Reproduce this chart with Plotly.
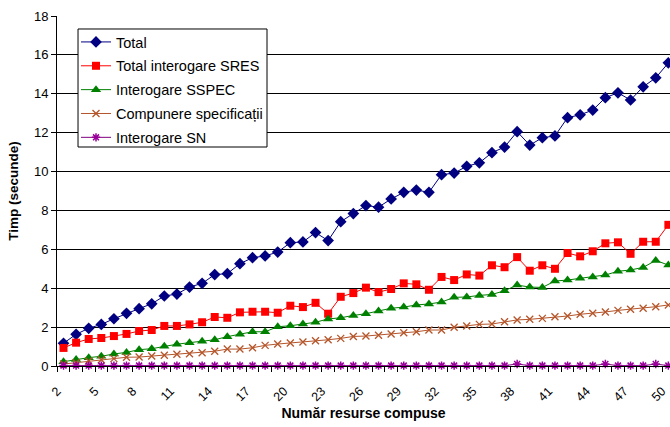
import plotly.graph_objects as go

x_vals = list(range(2, 51))
tick_values = list(range(2, 51, 3))
tick_labels = [str(v) for v in tick_values]

total = [1.17, 1.63, 1.94, 2.14, 2.43, 2.71, 2.95, 3.20, 3.60, 3.70, 4.06, 4.25, 4.70,
         4.75, 5.26, 5.57, 5.66, 5.86, 6.34, 6.38, 6.86, 6.45, 7.42, 7.84, 8.25, 8.17,
         8.59, 8.93, 9.05, 8.93, 9.84, 9.92, 10.27, 10.45, 10.97, 11.26, 12.05, 11.36,
         11.74, 11.83, 12.77, 12.92, 13.16, 13.80, 14.05, 13.68, 14.36, 14.82, 15.59]

total_sres = [0.93, 1.20, 1.39, 1.44, 1.54, 1.65, 1.80, 1.85, 2.06, 2.06, 2.14, 2.25, 2.52,
              2.48, 2.76, 2.79, 2.79, 2.74, 3.10, 3.03, 3.25, 2.69, 3.56, 3.75, 4.03, 3.80,
              3.96, 4.25, 4.20, 3.92, 4.58, 4.42, 4.71, 4.65, 5.18, 5.08, 5.60, 4.90,
              5.18, 5.00, 5.81, 5.64, 5.90, 6.31, 6.36, 5.77, 6.39, 6.39, 7.26]

sspec = [0.22, 0.34, 0.43, 0.50, 0.62, 0.70, 0.84, 0.89, 1.01, 1.12, 1.20, 1.27, 1.35,
         1.51, 1.63, 1.76, 1.76, 2.02, 2.07, 2.16, 2.25, 2.42, 2.48, 2.60, 2.69, 2.83,
         2.97, 3.03, 3.14, 3.19, 3.29, 3.53, 3.55, 3.63, 3.68, 3.87, 4.16, 4.06,
         4.04, 4.37, 4.42, 4.51, 4.58, 4.68, 4.87, 4.94, 5.07, 5.43, 5.19]

compunere = [0.10, 0.17, 0.26, 0.32, 0.38, 0.45, 0.46, 0.51, 0.55, 0.60, 0.63, 0.68, 0.76,
             0.87, 0.87, 0.94, 1.06, 1.13, 1.18, 1.23, 1.30, 1.35, 1.42, 1.52, 1.54, 1.58,
             1.65, 1.71, 1.76, 1.85, 1.85, 1.99, 2.06, 2.14, 2.16, 2.28, 2.37, 2.40,
             2.45, 2.53, 2.57, 2.66, 2.71, 2.78, 2.86, 2.92, 2.97, 3.05, 3.14]

sn = [0.02, 0.02, 0.02, 0.02, 0.02, 0.02, 0.02, 0.02, 0.02, 0.02, 0.02, 0.02, 0.02,
      0.02, 0.02, 0.02, 0.02, 0.02, 0.02, 0.02, 0.02, 0.02, 0.02, 0.02, 0.02, 0.02,
      0.02, 0.02, 0.02, 0.02, 0.02, 0.02, 0.02, 0.02, 0.02, 0.02, 0.10, 0.02,
      0.02, 0.02, 0.02, 0.02, 0.02, 0.10, 0.02, 0.02, 0.02, 0.10, 0.02]

series = [
    ("Total", total, "#000080", dict(symbol="diamond", size=9, color="#000080")),
    ("Total interogare SRES", total_sres, "#FF0000", dict(symbol="square", size=8, color="#FF0000")),
    ("Interogare SSPEC", sspec, "#008000", dict(symbol="triangle-up", size=9, color="#008000")),
    ("Compunere specificații", compunere, "#B5552A",
     dict(symbol="x-thin-open", size=7, color="#B5552A", line=dict(color="#B5552A", width=1.3))),
    ("Interogare SN", sn, "#800080",
     dict(symbol="asterisk-open", size=7, color="#990099", line=dict(color="#990099", width=1.5))),
]

fig = go.Figure()
for i, (name, vals, col, mk) in enumerate(series):
    fig.add_trace(go.Scatter(
        x=x_vals, y=vals, name=name, mode="lines+markers",
        line=dict(color=col, width=1), marker=mk,
        legendgroup=f"g{i}", cliponaxis=False,
    ))

# legend frame (drawn as a shape so its size can match the original)
fig.add_shape(type="rect", xref="paper", yref="paper",
              x0=0.0343, x1=0.3426, y0=0.6257, y1=0.9629,
              line=dict(color="black", width=1), fillcolor="white", layer="above")

fig.update_layout(
    width=670, height=427,
    margin=dict(l=57, r=0, t=16, b=61, autoexpand=False),
    paper_bgcolor="white", plot_bgcolor="white",
    font=dict(family="Liberation Sans, Arial, sans-serif", size=13, color="black"),
    showlegend=True,
    legend=dict(
        x=0.031, y=0.9714, xanchor="left", yanchor="top",
        bgcolor="rgba(0,0,0,0)", borderwidth=0,
        font=dict(size=14.5), itemwidth=30, tracegroupgap=2,
        traceorder="grouped",
    ),
    xaxis=dict(
        range=[1.484, 50.13], tickmode="array",
        # Excel draws these rotated labels slightly left of their category
        tickvals=[v - 0.5 for v in tick_values], ticktext=tick_labels,
        tickangle=-45, ticks="", showgrid=False,
        showline=True, linecolor="black", linewidth=1,
        zeroline=False, tickfont=dict(size=12.5), ticklabelstandoff=12,
        ticklabeloverflow="allow",
        minor=dict(ticks="outside", tick0=1.5, dtick=1, ticklen=5, tickcolor="black", showgrid=False),
        title=dict(text="<b>Număr resurse compuse</b>", font=dict(size=14), standoff=5),
        automargin=False,
    ),
    yaxis=dict(
        range=[0, 18], dtick=2, ticks="outside", ticklen=5, tickcolor="black",
        showgrid=True, gridcolor="#000000", gridwidth=1,
        showline=True, linecolor="black", linewidth=1, zeroline=False,
        tickfont=dict(size=13),
        title=dict(text="<b>Timp (secunde)</b>", font=dict(size=13.5), standoff=12),
        automargin=False,
    ),
)

fig.write_html("out.html", config={"displayModeBar": False},
               post_script="document.body.style.margin='0';")
